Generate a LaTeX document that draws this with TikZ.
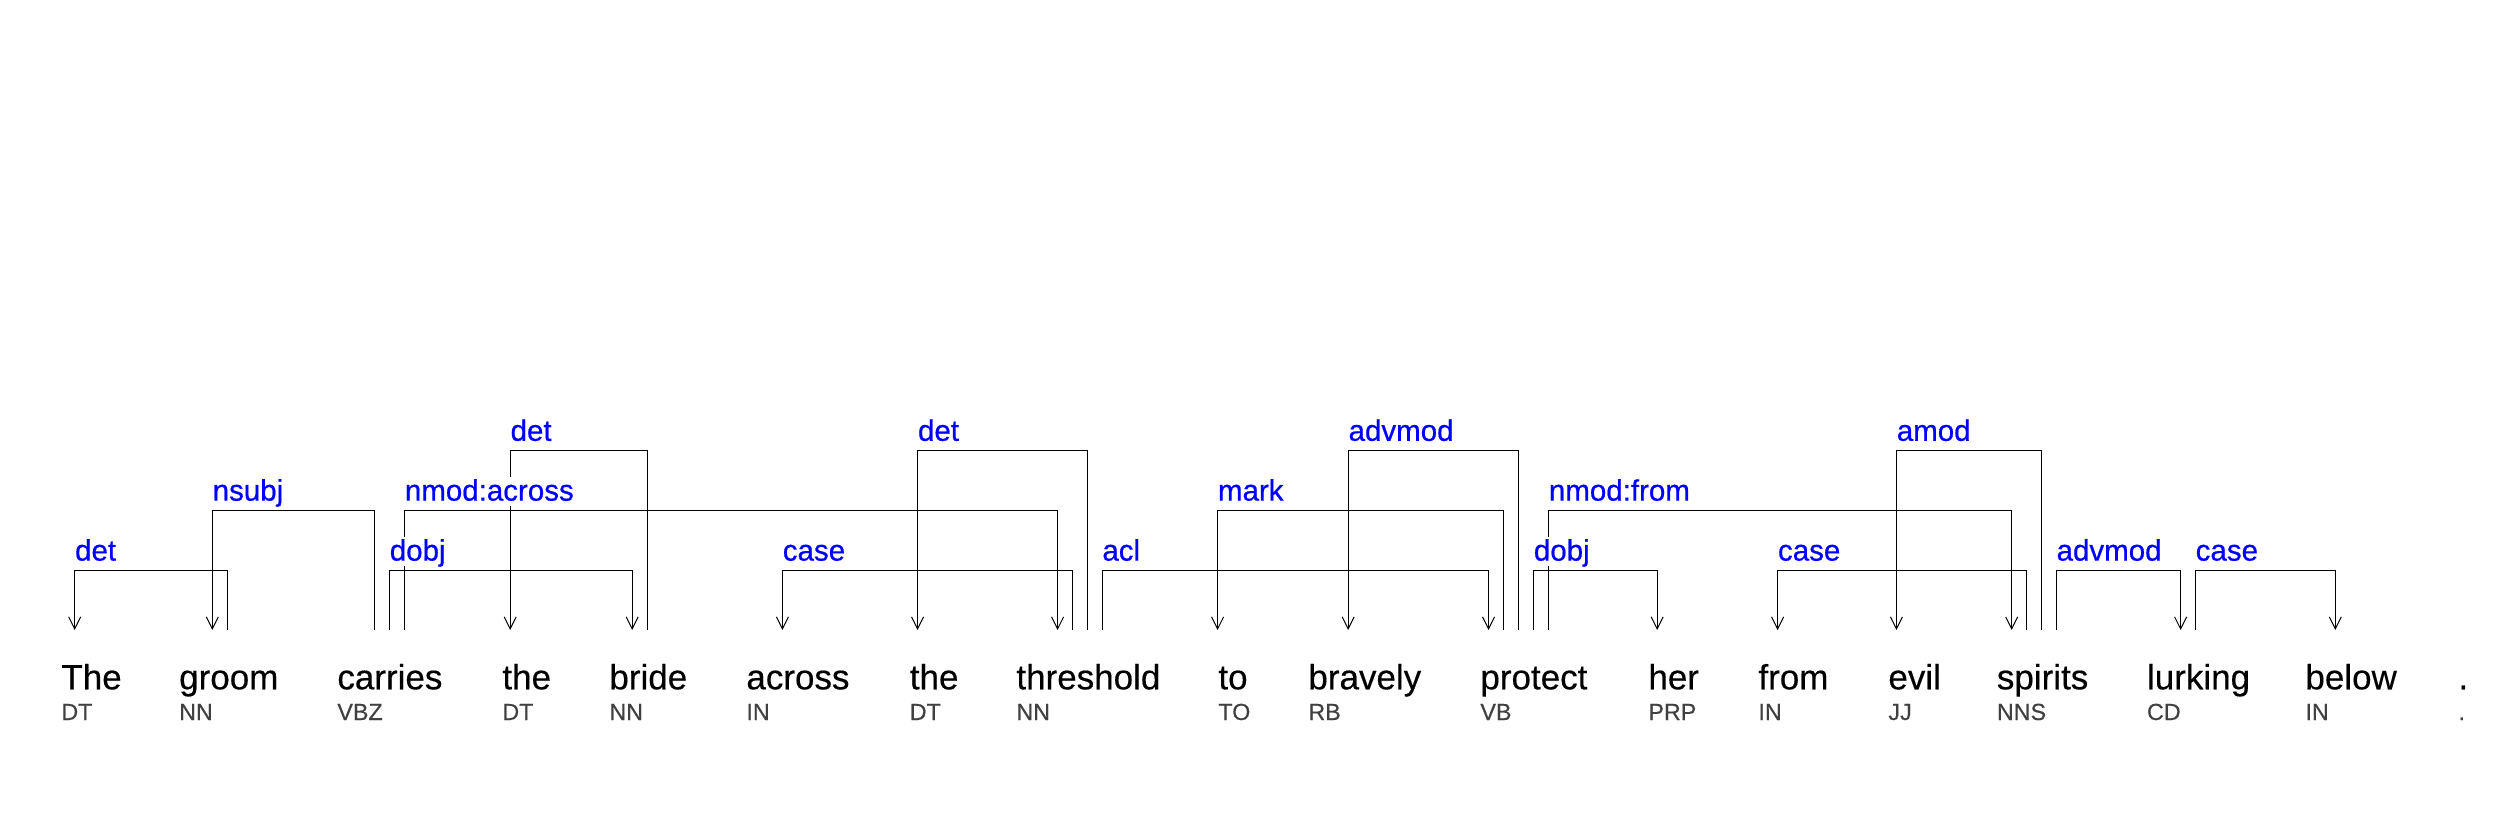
\documentclass[tikz,border=0pt]{standalone}
\usepackage{fontspec}
\setmainfont{Liberation Sans}
\newfontfamily\labfont[FakeBold=0.6]{Liberation Sans}
\newfontfamily\wordfont[FakeBold=0.35]{Liberation Sans}
\usetikzlibrary{arrows.meta}
\definecolor{labblue}{RGB}{0,0,255}
\definecolor{posgray}{RGB}{64,64,64}
\tikzset{
  word/.style={anchor=base west,inner sep=0pt,font=\wordfont\fontsize{17.5pt}{20pt}\selectfont,text=black},
  postag/.style={anchor=base west,inner sep=0pt,font=\wordfont\fontsize{11.65pt}{14pt}\selectfont,text=posgray},
  deplab/.style={anchor=base west,inner xsep=0pt,inner ysep=1pt,fill=white,text height=11pt,text depth=1.5pt,font=\labfont\fontsize{14.75pt}{17pt}\selectfont,text=labblue},
  depline/.style={draw=black,line width=0.5pt,-{Straight Barb[length=6pt,width=6pt,line width=0.5pt]}},
}
\newcommand\depedge[4]{%
  \coordinate (#1s) at (#2,630);
  \coordinate (#1t) at (#3,630);
  \draw[depline] (#1s) -- (#1s |- #4) -- (#1t |- #4) -- (#1t);}
\begin{document}
\begin{tikzpicture}[x=0.5pt,y=-0.5pt]
\useasboundingbox (0,0) rectangle (2520,840);
\fill[white] (0,0) rectangle (2520,840);
% levels
\coordinate (L1) at (0,570.3);
\coordinate (L2) at (0,510.3);
\coordinate (L3) at (0,450.5);
% words
\node[word] (w1) at (61,689.3) {The};
\node[word] (w2) at (178.8,689.3) {groom};
\node[word] (w3) at (337,689.3) {carries};
\node[word] (w4) at (502,689.3) {the};
\node[word] (w5) at (609,689.3) {bride};
\node[word] (w6) at (746,689.3) {across};
\node[word] (w7) at (909.4,689.3) {the};
\node[word] (w8) at (1016,689.3) {threshold};
\node[word] (w9) at (1218,689.3) {to};
\node[word] (w10) at (1308,689.3) {bravely};
\node[word] (w11) at (1480,689.3) {protect};
\node[word] (w12) at (1648,689.3) {her};
\node[word] (w13) at (1758,689.3) {from};
\node[word] (w14) at (1888,689.3) {evil};
\node[word] (w15) at (1996.5,689.3) {spirits};
\node[word] (w16) at (2146.6,689.3) {lurking};
\node[word] (w17) at (2305,689.3) {below};
\node[word] (w18) at (2458,689.3) {.};
% POS tags
\node[postag] (p1) at (61,720) {DT};
\node[postag] (p2) at (178.8,720) {NN};
\node[postag] (p3) at (337,720) {VBZ};
\node[postag] (p4) at (502,720) {DT};
\node[postag] (p5) at (609,720) {NN};
\node[postag] (p6) at (746,720) {IN};
\node[postag] (p7) at (909.4,720) {DT};
\node[postag] (p8) at (1016,720) {NN};
\node[postag] (p9) at (1218,720) {TO};
\node[postag] (p10) at (1308,720) {RB};
\node[postag] (p11) at (1480,720) {VB};
\node[postag] (p12) at (1648,720) {PRP};
\node[postag] (p13) at (1758,720) {IN};
\node[postag] (p14) at (1888,720) {JJ};
\node[postag] (p15) at (1996.5,720) {NNS};
\node[postag] (p16) at (2146.6,720) {CD};
\node[postag] (p17) at (2305,720) {IN};
\node[postag] (p18) at (2458,720) {.};
% edges
\depedge{e1}{227.3}{74.7}{L1}
\depedge{e2}{374.3}{212.3}{L2}
\depedge{e3}{389.4}{632.2}{L1}
\depedge{e4}{404.5}{1057.6}{L2}
\depedge{e5}{647.8}{510.2}{L3}
\depedge{e6}{1072.2}{782.4}{L1}
\depedge{e7}{1087.3}{917.6}{L3}
\depedge{e8}{1102}{1488.5}{L1}
\depedge{e9}{1503.3}{1217.6}{L2}
\depedge{e10}{1518.5}{1348.2}{L3}
\depedge{e11}{1533.5}{1657.2}{L1}
\depedge{e12}{1548.5}{2011.7}{L2}
\depedge{e13}{2026.4}{1777.6}{L1}
\depedge{e14}{2041.5}{1896.4}{L3}
\depedge{e15}{2056.2}{2180.6}{L1}
\depedge{e16}{2195.3}{2335.3}{L1}
% labels
\node[deplab] (l1) at (74.7,560.6) {det};
\node[deplab] (l2) at (212.3,500.6) {nsubj};
\node[deplab] (l3) at (389.4,560.6) {dobj};
\node[deplab] (l4) at (404.5,500.6) {nmod:across};
\node[deplab] (l5) at (510.2,440.8) {det};
\node[deplab] (l6) at (782.4,560.6) {case};
\node[deplab] (l7) at (917.6,440.8) {det};
\node[deplab] (l8) at (1102,560.6) {acl};
\node[deplab] (l9) at (1217.6,500.6) {mark};
\node[deplab] (l10) at (1348.2,440.8) {advmod};
\node[deplab] (l11) at (1533.5,560.6) {dobj};
\node[deplab] (l12) at (1548.5,500.6) {nmod:from};
\node[deplab] (l13) at (1777.6,560.6) {case};
\node[deplab] (l14) at (1896.4,440.8) {amod};
\node[deplab] (l15) at (2056.2,560.6) {advmod};
\node[deplab] (l16) at (2195.3,560.6) {case};
\end{tikzpicture}
\end{document}
